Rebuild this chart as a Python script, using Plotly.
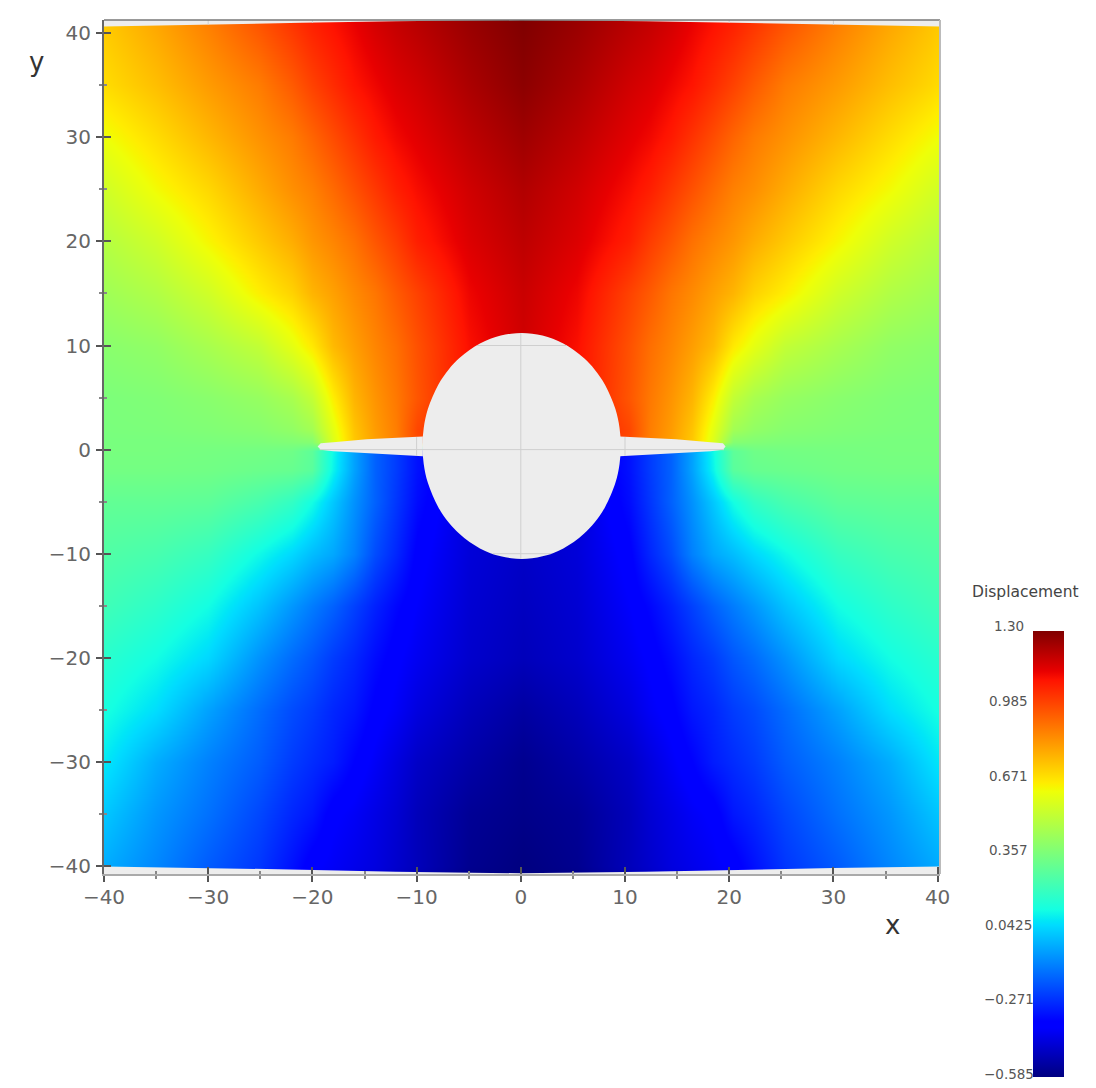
import plotly.graph_objects as go

# ---------- data ----------
grid_x = [-40, -35, -30, -25, -22, -20, -18, -16, -14, -12, -10, -5, 0.2,
          5.4, 10.4, 12.4, 14.4, 16.4, 18.4, 20.4, 22.4, 25.4, 30.4, 35.4, 40.3]
grid_y = [41.3, 35, 30, 25, 20, 15, 10, 5, 2, 0.75, -0.15, -2, -5, -10, -15,
          -20, -25, -30, -35, -40, -40.8]

disp_y_p413 = [.73,.80,.88,.97,1.03,1.07,1.10,1.13,1.165,1.19,1.21,1.26,1.30,1.26,1.21,1.19,1.165,1.13,1.10,1.07,1.03,.97,.88,.80,.73]
disp_y_p35 = [.69,.75,.82,.885,.95,1.00,1.045,1.09,1.12,1.15,1.17,1.23,1.28,1.23,1.17,1.15,1.12,1.09,1.045,1.00,.95,.885,.82,.75,.69]
disp_y_p30 = [.62,.69,.765,.84,.885,.93,.98,1.03,1.08,1.115,1.14,1.20,1.25,1.20,1.14,1.115,1.08,1.03,.98,.93,.885,.84,.765,.69,.62]
disp_y_p25 = [.55,.63,.70,.79,.845,.875,.92,.97,1.02,1.07,1.105,1.17,1.22,1.17,1.105,1.07,1.02,.97,.92,.875,.845,.79,.70,.63,.55]
disp_y_p20 = [.49,.55,.64,.73,.785,.83,.865,.905,.96,1.01,1.07,1.15,1.20,1.15,1.07,1.01,.96,.905,.865,.83,.785,.73,.64,.55,.49]
disp_y_p15 = [.44,.48,.55,.655,.71,.77,.81,.855,.895,.95,1.00,1.12,1.18,1.12,1.00,.95,.895,.855,.81,.77,.71,.655,.55,.48,.44]
disp_y_p10 = [.39,.41,.46,.52,.60,.665,.76,.815,.865,.91,.97,1.10,1.17,1.10,.97,.91,.865,.815,.76,.665,.60,.52,.46,.41,.39]
disp_y_p5 = [.36,.37,.39,.42,.46,.52,.655,.77,.835,.89,.96,1.10,1.15,1.10,.96,.89,.835,.77,.655,.52,.46,.42,.39,.37,.36]
disp_y_p2 = [.355,.36,.37,.385,.41,.45,.60,.74,.82,.88,.99,1.10,1.15,1.10,.99,.88,.82,.74,.60,.45,.41,.385,.37,.36,.355]
disp_y_p07 = [.35,.35,.355,.36,.37,.38,.58,.73,.81,.875,.98,1.10,1.15,1.10,.98,.875,.81,.73,.58,.38,.37,.36,.355,.35,.35]
disp_y_m01 = [.35,.35,.345,.34,.33,.29,.11,-.05,-.17,-.24,-.32,-.43,-.46,-.43,-.32,-.24,-.17,-.05,.11,.29,.33,.34,.345,.35,.35]
disp_y_m2 = [.34,.34,.335,.32,.31,.28,.10,-.05,-.17,-.24,-.32,-.43,-.46,-.43,-.32,-.24,-.17,-.05,.10,.28,.31,.32,.335,.34,.34]
disp_y_m5 = [.30,.30,.29,.24,.19,.12,.02,-.08,-.17,-.25,-.33,-.44,-.46,-.44,-.33,-.25,-.17,-.08,.02,.12,.19,.24,.29,.30,.30]
disp_y_m10 = [.26,.24,.20,.11,.05,.00,-.04,-.11,-.21,-.28,-.36,-.44,-.47,-.44,-.36,-.28,-.21,-.11,-.04,.00,.05,.11,.20,.24,.26]
disp_y_m15 = [.22,.18,.12,.01,-.07,-.12,-.17,-.23,-.29,-.34,-.38,-.45,-.48,-.45,-.38,-.34,-.29,-.23,-.17,-.12,-.07,.01,.12,.18,.22]
disp_y_m20 = [.17,.12,.05,-.08,-.15,-.19,-.24,-.28,-.33,-.37,-.40,-.46,-.49,-.46,-.40,-.37,-.33,-.28,-.24,-.19,-.15,-.08,.05,.12,.17]
disp_y_m25 = [.13,.06,-.05,-.15,-.21,-.24,-.28,-.31,-.36,-.39,-.43,-.49,-.53,-.49,-.43,-.39,-.36,-.31,-.28,-.24,-.21,-.15,-.05,.06,.13]
disp_y_m30 = [.08,-.03,-.11,-.18,-.24,-.27,-.30,-.35,-.39,-.43,-.47,-.52,-.56,-.52,-.47,-.43,-.39,-.35,-.30,-.27,-.24,-.18,-.11,-.03,.08]
disp_y_m35 = [.02,-.07,-.14,-.22,-.28,-.31,-.37,-.39,-.42,-.45,-.49,-.55,-.57,-.55,-.49,-.45,-.42,-.39,-.37,-.31,-.28,-.22,-.14,-.07,.02]
disp_y_m40 = [-.03,-.10,-.18,-.25,-.32,-.37,-.39,-.41,-.43,-.46,-.49,-.56,-.585,-.56,-.49,-.46,-.43,-.41,-.39,-.37,-.32,-.25,-.18,-.10,-.03]
disp_y_m408 = [-.04,-.11,-.19,-.26,-.33,-.38,-.40,-.42,-.44,-.47,-.50,-.57,-.585,-.57,-.50,-.47,-.44,-.42,-.40,-.38,-.33,-.26,-.19,-.11,-.04]

hole_x = [-9.44,-9.32,-8.92,-7.92,-6.92,-5.92,-4.92,-3.92,-2.92,-1.92,-.92,.08,1.08,2.08,3.08,4.08,5.08,6.08,7.08,8.08,9.08,9.48,9.6,
          9.48,9.08,8.08,7.08,6.08,5.08,4.08,3.08,2.08,1.08,.08,-.92,-1.92,-2.92,-3.92,-4.92,-5.92,-6.92,-7.92,-8.92,-9.32,-9.44]
hole_y = [.35,2.06,3.89,6.23,7.7,8.77,9.58,10.19,10.65,10.95,11.14,11.2,11.14,10.95,10.65,10.19,9.58,8.77,7.7,6.23,3.89,2.06,.35,
          -1.36,-3.19,-5.53,-7.0,-8.07,-8.88,-9.49,-9.95,-10.25,-10.44,-10.5,-10.44,-10.25,-9.95,-9.49,-8.88,-8.07,-7.0,-5.53,-3.19,-1.36,.35]
wing_x = [-9.4,-14.8,-18.0,-19.2,-19.5,-19.2,-18.0,-14.8,-9.4,None,9.5,14.9,18.2,19.4,19.65,19.4,18.2,14.9,9.5]
wing_y = [1.25,1.0,.7,.62,.3,-.02,-.15,-.35,-.65,None,1.25,1.0,.7,.62,.3,-.02,-.15,-.35,-.65]
top_band_x = [-40,-30,-21,-12,0,12,21,30,40.3,40.3,-40]
top_band_y = [40.65,40.8,41.0,41.15,41.27,41.15,41.0,40.8,40.65,41.4,41.4]
bottom_band_x = [-40,-30,-21,-12,0,12,21,30,40.3,40.3,-40]
bottom_band_y = [-40.05,-40.2,-40.35,-40.55,-40.7,-40.55,-40.35,-40.2,-40.05,-41,-41]
inner_grid_x = [0,0,None,-10,-10,None,10,10,None,-19.3,19.5,None,-4.2,4.4,None,-2.7,2.9,None,-30,-30,None,-20,-20,None,20,20,None,30,30]
inner_grid_y = [-10.5,11.2,None,-.6,1.2,None,-.6,1.2,None,0,0,None,10,10,None,-10,-10,None,40.8,41.3,None,41,41.3,None,41,41.3,None,40.8,41.3]

cbar_labels = ["1.30", "0.985", "0.671", "0.357", "0.0425", "\u22120.271", "\u22120.585"]
cbar_values = [1.30, 0.985, 0.671, 0.357, 0.0425, -0.271, -0.585]
axis_ticks = [-40, -30, -20, -10, 0, 10, 20, 30, 40]

jet = [[0, "rgb(0,0,128)"], [.11, "rgb(0,0,255)"], [.125, "rgb(0,0,255)"], [.34, "rgb(0,219,255)"],
       [.35, "rgb(0,230,247)"], [.375, "rgb(20,255,226)"], [.64, "rgb(238,255,8)"], [.65, "rgb(247,246,0)"],
       [.66, "rgb(255,236,0)"], [.89, "rgb(255,19,0)"], [.91, "rgb(232,0,0)"], [1, "rgb(128,0,0)"]]

disp_grid = [disp_y_p413, disp_y_p35, disp_y_p30, disp_y_p25, disp_y_p20, disp_y_p15, disp_y_p10, disp_y_p5,
             disp_y_p2, disp_y_p07, disp_y_m01, disp_y_m2, disp_y_m5, disp_y_m10, disp_y_m15, disp_y_m20,
             disp_y_m25, disp_y_m30, disp_y_m35, disp_y_m40, disp_y_m408]

GREY = "#ededed"
W, H = 1096, 1088
L, R, T, B = 104, 940, 20, 875
XR = [-40, 40.23]
YR = [-40.77, 41.27]
FONT = "DejaVu Sans"

def px(x):
    return (x - L) / (R - L)

def py(y):
    return (B - y) / (B - T)

fig = go.Figure()
fig.add_trace(go.Heatmap(
    x=grid_x, y=grid_y, z=disp_grid, zmin=-0.585, zmax=1.30, colorscale=jet, zsmooth="best",
    hoverinfo="skip",
    colorbar=dict(xref="paper", yref="paper", x=px(1033), y=py(1077), xanchor="left", yanchor="bottom",
                  len=446, lenmode="pixels", thickness=31, thicknessmode="pixels", outlinewidth=0,
                  xpad=0, ypad=0, showticklabels=False, ticks="", tickvals=cbar_values),
))
for xs, ys in [(top_band_x, top_band_y), (bottom_band_x, bottom_band_y)]:
    fig.add_trace(go.Scatter(x=xs, y=ys, mode="lines", fill="toself", fillcolor=GREY, line=dict(width=0),
                             xaxis="x2", yaxis="y2", hoverinfo="skip", showlegend=False))
fig.add_trace(go.Scatter(x=hole_x, y=hole_y, mode="lines", fill="toself", fillcolor=GREY,
                         line=dict(width=0, shape="spline", smoothing=1.0), xaxis="x2", yaxis="y2", hoverinfo="skip", showlegend=False))
fig.add_trace(go.Scatter(x=wing_x, y=wing_y, mode="lines", fill="toself", fillcolor=GREY, line=dict(width=0),
                         xaxis="x2", yaxis="y2", hoverinfo="skip", showlegend=False))
fig.add_trace(go.Scatter(x=inner_grid_x, y=inner_grid_y, mode="lines", line=dict(width=1, color="#cfcfcf"),
                         xaxis="x2", yaxis="y2", hoverinfo="skip", showlegend=False))

tickfont = dict(family=FONT, size=20, color="#666666")
common = dict(tickmode="array", tickvals=axis_ticks, zeroline=False, showgrid=True, gridcolor="#d8d8d8")
fig.update_layout(
    width=W, height=H, autosize=False, paper_bgcolor="white", plot_bgcolor=GREY,
    margin=dict(l=L, r=W - R, t=T, b=H - B, pad=0), showlegend=False,
    xaxis=dict(range=XR, showline=True, linecolor="#aaaaaa", linewidth=2, ticks="outside", ticklen=6, tickcolor="#555555",
               tickwidth=1.5, tickfont=tickfont, ticklabelstandoff=-2, minor=dict(dtick=5, ticks="outside", ticklen=3, tickcolor="#888888"), **common),
    yaxis=dict(range=YR, showline=True, linecolor="#666666", linewidth=2, ticks="outside", ticklen=6, tickcolor="#555555",
               tickwidth=1.5, tickfont=tickfont, ticklabelstandoff=1, minor=dict(dtick=5, ticks="outside", ticklen=3, tickcolor="#888888"), **common),
    xaxis2=dict(range=XR, overlaying="x", anchor="y2", showticklabels=False, showgrid=False, zeroline=False, tickmode="array",
                tickvals=axis_ticks, ticks="inside", ticklen=7, tickcolor="#555555", tickwidth=1.5,
                minor=dict(dtick=5, ticks="inside", ticklen=3, tickcolor="#888888")),
    yaxis2=dict(range=YR, overlaying="y", anchor="x2", showticklabels=False, showgrid=False, zeroline=False, tickmode="array",
                tickvals=axis_ticks, ticks="inside", ticklen=7, tickcolor="#555555", tickwidth=1.5,
                minor=dict(dtick=5, ticks="inside", ticklen=3, tickcolor="#888888")),
    shapes=[
        dict(type="line", xref="paper", yref="paper", x0=0, x1=1, y0=1, y1=1, line=dict(color="#777777", width=1.5)),
        dict(type="line", xref="paper", yref="paper", x0=1, x1=1, y0=0, y1=1, line=dict(color="#bbbbbb", width=2)),
    ],
)

annots = [
    dict(text="x", x=px(892), y=py(926), font=dict(family=FONT, size=26, color="#333333")),
    dict(text="y", x=px(36), y=py(62), font=dict(family=FONT, size=26, color="#333333")),
    dict(text="Displacement", x=px(1025), y=py(593), font=dict(family=FONT, size=15.5, color="#444444")),
]
for lab, val in zip(cbar_labels, cbar_values):
    ypx = 1075 - (val + 0.585) / 1.885 * 448
    annots.append(dict(text=lab, x=px(1009), y=py(ypx), font=dict(family=FONT, size=13.5, color="#555555")))
for a in annots:
    a.update(xref="paper", yref="paper", showarrow=False, xanchor="center", yanchor="middle")
fig.update_layout(annotations=annots)

fig.write_html("out.html", config={"displayModeBar": False},
               post_script="document.body.style.margin='0';document.documentElement.style.overflow='hidden';")
